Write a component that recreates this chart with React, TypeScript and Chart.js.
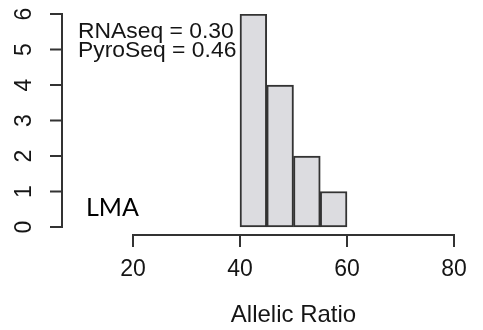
import React, { useEffect, useRef } from "react";
import { Chart, registerables } from "chart.js";

Chart.register(...registerables);

// ---- data ----
const binStarts = [40, 45, 50, 55];
const binWidth = 5;
const counts = [6, 4, 2, 1];
const xTicks = [20, 40, 60, 80];
const yTicks = [0, 1, 2, 3, 4, 5, 6];
const legendLines = ["RNAseq = 0.30", "PyroSeq = 0.46"];
const panelLabel = "LMA";
const xTitle = "Allelic Ratio";

const AXIS_COLOR = "#333333";
const TEXT_COLOR = "#151515";
const SANS = "'Liberation Sans', Arial, Helvetica, sans-serif";

const rAxisPlugin = {
  id: "rAxisPlugin",
  afterDraw(chart: any) {
    const ctx = chart.ctx;
    const y = chart.scales.y;
    const axisX = 62;
    const tickLen = 12;
    ctx.save();
    // y axis line
    ctx.strokeStyle = AXIS_COLOR;
    ctx.lineWidth = 2;
    ctx.beginPath();
    const yTop = y.getPixelForValue(yTicks[yTicks.length - 1]);
    const yBot = y.getPixelForValue(yTicks[0]);
    ctx.moveTo(axisX, yBot);
    ctx.lineTo(axisX, yTop);
    yTicks.forEach((t) => {
      const py = y.getPixelForValue(t);
      ctx.moveTo(axisX - tickLen, py);
      ctx.lineTo(axisX + 1, py);
    });
    ctx.stroke();
    // rotated labels
    ctx.fillStyle = TEXT_COLOR;
    ctx.font = `23px ${SANS}`;
    ctx.textAlign = "center";
    ctx.textBaseline = "middle";
    yTicks.forEach((t) => {
      const py = y.getPixelForValue(t);
      ctx.save();
      ctx.translate(25, py);
      ctx.rotate(-Math.PI / 2);
      ctx.fillText(String(t), 0, 0);
      ctx.restore();
    });
    // legend text
    ctx.textAlign = "left";
    ctx.textBaseline = "alphabetic";
    ctx.font = `22px ${SANS}`;
    legendLines.forEach((line, i) => {
      ctx.save();
      ctx.translate(78, 38 + i * 19);
      ctx.scale(1.04, 1);
      ctx.fillText(line, 0, 0);
      ctx.restore();
    });
    // panel label
    ctx.fillStyle = "#000";
    ctx.font = "25px Lato, 'Open Sans', sans-serif";
    ctx.fillText(panelLabel, 86, 216);
    ctx.restore();
  },
};

export default function App() {
  const ref = useRef<HTMLCanvasElement>(null);
  useEffect(() => {
    if (!ref.current) return;
    const chart = new Chart(ref.current, {
      type: "bar",
      data: {
        datasets: [
          {
            data: binStarts.map((s, i) => ({ x: s + binWidth / 2, y: counts[i] })),
            backgroundColor: "#dcdce0",
            borderColor: "#333333",
            borderWidth: 2,
            borderSkipped: false,
            barPercentage: 1,
            categoryPercentage: 1,
          },
        ],
      },
      options: {
        responsive: false,
        animation: false,
        layout: { padding: { left: 133, right: 29, top: 14, bottom: 0 } },
        plugins: { legend: { display: false }, tooltip: { enabled: false } },
        scales: {
          x: {
            type: "linear",
            min: xTicks[0],
            max: xTicks[xTicks.length - 1],
            offset: false,
            afterBuildTicks: (scale: any) => {
              scale.ticks = xTicks.map((v) => ({ value: v }));
            },
            afterFit: (scale: any) => {
              scale.height = 95;
            },
            grid: {
              offset: false,
              drawOnChartArea: false,
              drawTicks: true,
              tickLength: 12,
              color: AXIS_COLOR,
              lineWidth: 2,
            },
            border: { display: true, color: AXIS_COLOR, width: 2 },
            ticks: {
              padding: 9,
              color: TEXT_COLOR,
              font: { family: SANS, size: 23 },
              maxRotation: 0,
              autoSkip: false,
            },
            title: {
              display: true,
              text: xTitle,
              color: TEXT_COLOR,
              font: { family: SANS, size: 24 },
              padding: { top: 4, bottom: 0 },
            },
          },
          y: {
            display: false,
            min: -0.225,
            max: 6,
          },
        },
      },
      plugins: [rAxisPlugin],
    });
    return () => chart.destroy();
  }, []);
  return (
    <div style={{ position: "fixed", left: 0, top: 0, width: 483, height: 330, background: "#fff" }}>
      <canvas ref={ref} width={483} height={330} />
    </div>
  );
}
